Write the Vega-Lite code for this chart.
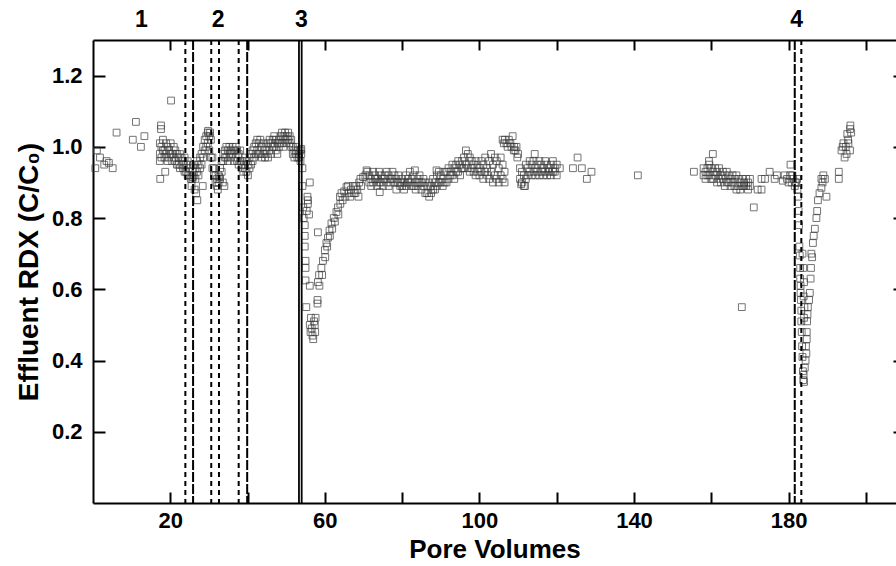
{
"$schema":"https://vega.github.io/schema/vega-lite/v6.json",
"autosize":"none",
"padding":{"left":93,"top":40,"right":0,"bottom":63},
"width":803,"height":463,
"config":{"font":"Liberation Sans","view":{"stroke":null},
"axis":{"domainColor":"black","domainWidth":2,"tickColor":"black","tickWidth":2,"grid":false,"labelFont":"Liberation Sans","labelFontWeight":"bold","labelFontSize":22,"labelColor":"black","titleFont":"Liberation Sans","titleFontWeight":"bold","titleFontSize":26,"titleColor":"black"}},
"datasets":{"pts":[
{"x":0.6,"y":0.94},{"x":1.0,"y":0.99},{"x":1.8,"y":0.97},{"x":2.9,"y":0.95},{"x":3.5,"y":0.96},{"x":4.1,"y":0.955},{"x":5.1,"y":0.94},{"x":6.1,"y":1.04},{"x":10.3,"y":1.02},{"x":11.1,"y":1.07},{"x":12.4,"y":1.0},{"x":13.3,"y":1.03},{"x":17.6,"y":1.06},{"x":17.6,"y":1.05},{"x":17.3,"y":0.96},{"x":18.7,"y":0.93},{"x":17.4,"y":0.91},{"x":20.2,"y":1.13},
{"x":17.3,"y":1.01},{"x":17.3,"y":0.98},{"x":17.7,"y":1.0},{"x":17.7,"y":0.97},{"x":18.1,"y":1.02},{"x":18.1,"y":0.99},{"x":18.5,"y":0.99},{"x":18.5,"y":0.97},{"x":18.9,"y":1.01},{"x":18.9,"y":0.98},{"x":19.3,"y":1.0},{"x":19.3,"y":0.96},{"x":19.7,"y":0.99},{"x":19.7,"y":0.97},{"x":20.1,"y":1.01},{"x":20.1,"y":0.98},{"x":20.5,"y":0.98},{"x":20.5,"y":0.96},{"x":20.9,"y":1.0},{"x":20.9,"y":0.97},{"x":21.3,"y":0.99},{"x":21.3,"y":0.96},{"x":21.7,"y":0.98},{"x":21.7,"y":0.95},{"x":22.1,"y":0.97},{"x":22.1,"y":0.95},{"x":22.5,"y":0.98},{"x":22.5,"y":0.94},
{"x":22.9,"y":0.97},{"x":22.9,"y":0.95},{"x":23.3,"y":0.96},{"x":23.3,"y":0.94},{"x":23.7,"y":0.97},{"x":23.7,"y":0.93},{"x":24.1,"y":0.95},{"x":24.1,"y":0.93},{"x":24.5,"y":0.96},{"x":24.5,"y":0.92},{"x":24.9,"y":0.94},{"x":24.9,"y":0.92},{"x":25.3,"y":0.95},{"x":25.3,"y":0.91},{"x":25.7,"y":0.93},{"x":25.7,"y":0.91},{"x":26.1,"y":0.95},{"x":26.1,"y":0.92},{"x":26.5,"y":0.94},{"x":26.5,"y":0.91},{"x":26.9,"y":0.96},{"x":26.9,"y":0.93},{"x":27.3,"y":0.95},{"x":27.3,"y":0.92},{"x":27.7,"y":0.97},{"x":27.7,"y":0.94},{"x":28.1,"y":0.98},{"x":28.1,"y":0.95},
{"x":28.5,"y":1.0},{"x":28.5,"y":0.97},{"x":28.9,"y":1.02},{"x":28.9,"y":0.99},{"x":29.3,"y":1.03},{"x":29.3,"y":1.0},{"x":29.7,"y":1.04},{"x":29.7,"y":1.01},{"x":30.1,"y":1.03},{"x":30.1,"y":0.99},{"x":30.5,"y":1.02},{"x":30.5,"y":0.97},{"x":30.9,"y":0.97},{"x":30.9,"y":0.94},{"x":31.3,"y":0.94},{"x":31.3,"y":0.92},{"x":31.7,"y":0.92},{"x":31.7,"y":0.9},{"x":32.1,"y":0.91},{"x":32.1,"y":0.89},{"x":32.5,"y":0.92},{"x":32.5,"y":0.9},{"x":32.9,"y":0.94},{"x":32.9,"y":0.91},{"x":33.3,"y":0.96},{"x":33.3,"y":0.93},
{"x":33.7,"y":0.98},{"x":33.7,"y":0.96},{"x":34.1,"y":0.99},{"x":34.1,"y":0.97},{"x":34.5,"y":1.0},{"x":34.5,"y":0.97},{"x":34.9,"y":0.99},{"x":34.9,"y":0.96},{"x":35.3,"y":1.0},{"x":35.3,"y":0.98},{"x":35.7,"y":0.99},{"x":35.7,"y":0.97},{"x":36.1,"y":1.0},{"x":36.1,"y":0.98},{"x":36.5,"y":0.99},{"x":36.5,"y":0.96},{"x":36.9,"y":1.0},{"x":36.9,"y":0.97},{"x":37.3,"y":0.99},{"x":37.3,"y":0.96},{"x":37.7,"y":0.98},{"x":37.7,"y":0.95},{"x":38.1,"y":0.99},{"x":38.1,"y":0.96},
{"x":38.5,"y":0.96},{"x":38.5,"y":0.94},{"x":38.9,"y":0.95},{"x":38.9,"y":0.93},{"x":39.3,"y":0.97},{"x":39.3,"y":0.94},{"x":39.7,"y":0.96},{"x":39.7,"y":0.93},{"x":40.1,"y":0.95},{"x":40.1,"y":0.92},{"x":40.5,"y":0.97},{"x":40.5,"y":0.94},{"x":40.9,"y":0.98},{"x":40.9,"y":0.95},
{"x":41.3,"y":0.99},{"x":41.3,"y":0.96},{"x":41.7,"y":1.0},{"x":41.7,"y":0.97},{"x":42.1,"y":1.01},{"x":42.1,"y":0.98},{"x":42.5,"y":1.02},{"x":42.5,"y":0.99},{"x":42.9,"y":1.01},{"x":42.9,"y":0.98},{"x":43.3,"y":1.02},{"x":43.3,"y":0.98},{"x":43.7,"y":1.0},{"x":43.7,"y":0.97},{"x":44.1,"y":1.01},{"x":44.1,"y":0.98},{"x":44.5,"y":0.99},{"x":44.5,"y":0.97},{"x":44.9,"y":1.0},{"x":44.9,"y":0.98},{"x":45.3,"y":1.01},{"x":45.3,"y":0.97},{"x":45.7,"y":1.02},{"x":45.7,"y":0.99},
{"x":46.1,"y":1.01},{"x":46.1,"y":0.98},{"x":46.5,"y":1.02},{"x":46.5,"y":1.0},{"x":46.9,"y":1.03},{"x":46.9,"y":1.0},{"x":47.3,"y":1.02},{"x":47.3,"y":0.99},{"x":47.7,"y":1.01},{"x":47.7,"y":0.98},{"x":48.1,"y":1.02},{"x":48.1,"y":1.0},{"x":48.5,"y":1.03},{"x":48.5,"y":1.01},{"x":48.9,"y":1.04},{"x":48.9,"y":1.01},{"x":49.3,"y":1.03},{"x":49.3,"y":1.0},{"x":49.7,"y":1.04},{"x":49.7,"y":1.02},{"x":50.1,"y":1.03},{"x":50.1,"y":1.01},{"x":50.5,"y":1.04},{"x":50.5,"y":1.02},{"x":50.9,"y":1.03},{"x":50.9,"y":1.01},{"x":51.3,"y":1.02},{"x":51.3,"y":1.0},
{"x":51.7,"y":1.0},{"x":51.7,"y":0.98},{"x":52.1,"y":0.99},{"x":52.1,"y":0.97},{"x":52.5,"y":1.0},{"x":52.5,"y":0.98},{"x":52.9,"y":0.99},{"x":52.9,"y":0.97},{"x":53.3,"y":0.98},{"x":53.3,"y":0.97},{"x":53.7,"y":0.99},{"x":53.7,"y":0.96},
{"x":25.5,"y":0.89},{"x":26.3,"y":0.88},{"x":27.0,"y":0.85},{"x":26.7,"y":0.87},{"x":25.8,"y":0.915},{"x":28.4,"y":0.89},{"x":29.8,"y":1.045},{"x":30.3,"y":1.04},{"x":32.3,"y":0.88},{"x":32.7,"y":0.915},{"x":34.0,"y":0.89},{"x":33.6,"y":0.9},
{"x":53.9,"y":0.98},{"x":53.9,"y":0.994},{"x":54.2,"y":0.94},{"x":54.2,"y":0.89},{"x":56.1,"y":0.9},{"x":54.4,"y":0.83},{"x":55.6,"y":0.85},{"x":55.6,"y":0.84},{"x":55.9,"y":0.81},{"x":54.8,"y":0.78},{"x":54.8,"y":0.75},{"x":54.8,"y":0.72},{"x":58.2,"y":0.76},{"x":55.0,"y":0.68},{"x":55.0,"y":0.66},{"x":55.0,"y":0.625},{"x":56.1,"y":0.61},{"x":55.2,"y":0.55},{"x":58.1,"y":0.56},{"x":58.1,"y":0.57},{"x":56.1,"y":0.5},{"x":56.3,"y":0.48},{"x":57.0,"y":0.46},{"x":57.6,"y":0.52},{"x":57.4,"y":0.5},{"x":56.6,"y":0.49},{"x":56.8,"y":0.47},{"x":57.2,"y":0.51},{"x":56.4,"y":0.52},{"x":57.5,"y":0.48},{"x":54.5,"y":0.8},{"x":55.3,"y":0.82},{"x":55.5,"y":0.86},
{"x":58.2,"y":0.62},{"x":58.5,"y":0.64},{"x":59.1,"y":0.66},{"x":59.5,"y":0.68},{"x":60.0,"y":0.71},{"x":60.4,"y":0.73},{"x":60.8,"y":0.745},{"x":61.2,"y":0.765},{"x":61.7,"y":0.785},{"x":62.3,"y":0.8},{"x":63.0,"y":0.817},{"x":63.4,"y":0.83},{"x":63.9,"y":0.86},{"x":64.3,"y":0.87},{"x":65.0,"y":0.875},{"x":65.6,"y":0.887},{"x":66.2,"y":0.87},{"x":66.8,"y":0.88},{"x":67.3,"y":0.89},{"x":67.9,"y":0.87},{"x":68.4,"y":0.88},{"x":68.9,"y":0.9},{"x":69.4,"y":0.89},{"x":69.9,"y":0.915},{"x":70.5,"y":0.92},{"x":71.0,"y":0.93},
{"x":58.6,"y":0.61},{"x":59.3,"y":0.64},{"x":60.1,"y":0.69},{"x":60.6,"y":0.72},{"x":61.3,"y":0.75},{"x":61.9,"y":0.77},{"x":62.6,"y":0.79},{"x":63.5,"y":0.81},{"x":64.0,"y":0.84},{"x":64.6,"y":0.85},{"x":65.3,"y":0.86},{"x":66.0,"y":0.89},{"x":66.6,"y":0.86},{"x":67.5,"y":0.87},{"x":68.1,"y":0.89},{"x":68.7,"y":0.86},{"x":69.2,"y":0.91},
{"x":71.5,"y":0.92},{"x":71.5,"y":0.9},{"x":72.0,"y":0.91},{"x":72.0,"y":0.89},{"x":72.5,"y":0.93},{"x":72.5,"y":0.9},{"x":73.0,"y":0.92},{"x":73.0,"y":0.91},{"x":73.5,"y":0.91},{"x":73.5,"y":0.89},{"x":74.0,"y":0.93},{"x":74.0,"y":0.9},{"x":74.5,"y":0.92},{"x":74.5,"y":0.9},{"x":75.0,"y":0.91},{"x":75.0,"y":0.89},{"x":75.5,"y":0.92},{"x":75.5,"y":0.91},{"x":76.0,"y":0.93},{"x":76.0,"y":0.9},{"x":76.5,"y":0.92},{"x":76.5,"y":0.89},{"x":77.0,"y":0.91},{"x":77.0,"y":0.9},{"x":77.5,"y":0.93},{"x":77.5,"y":0.91},{"x":78.0,"y":0.92},{"x":78.0,"y":0.9},{"x":78.5,"y":0.91},{"x":78.5,"y":0.88},{"x":79.0,"y":0.92},{"x":79.0,"y":0.9},{"x":79.5,"y":0.9},{"x":79.5,"y":0.89},{"x":80.0,"y":0.91},{"x":80.0,"y":0.89},{"x":80.5,"y":0.9},{"x":80.5,"y":0.88},{"x":81.0,"y":0.92},{"x":81.0,"y":0.89},{"x":81.5,"y":0.91},{"x":81.5,"y":0.9},{"x":82.0,"y":0.93},{"x":82.0,"y":0.9},{"x":82.5,"y":0.91},{"x":82.5,"y":0.89},{"x":83.0,"y":0.92},{"x":83.0,"y":0.89},{"x":83.5,"y":0.9},{"x":83.5,"y":0.88},{"x":84.0,"y":0.91},{"x":84.0,"y":0.89},{"x":84.5,"y":0.92},{"x":84.5,"y":0.9},{"x":85.0,"y":0.9},{"x":85.0,"y":0.88},{"x":85.5,"y":0.91},{"x":85.5,"y":0.89},{"x":86.0,"y":0.9},{"x":86.0,"y":0.87},{"x":86.5,"y":0.89},{"x":86.5,"y":0.87},{"x":87.0,"y":0.9},{"x":87.0,"y":0.86},{"x":87.5,"y":0.89},{"x":87.5,"y":0.87},{"x":88.0,"y":0.91},{"x":88.0,"y":0.88},{"x":88.5,"y":0.9},{"x":88.5,"y":0.88},{"x":89.0,"y":0.92},{"x":89.0,"y":0.89},{"x":89.5,"y":0.93},{"x":89.5,"y":0.9},{"x":90.0,"y":0.92},{"x":90.0,"y":0.9},{"x":90.5,"y":0.91},{"x":90.5,"y":0.89},{"x":91.0,"y":0.93},{"x":91.0,"y":0.9},
{"x":70.8,"y":0.934},{"x":74.2,"y":0.873},{"x":83.3,"y":0.934},{"x":88.9,"y":0.934},
{"x":91.5,"y":0.93},{"x":91.5,"y":0.9},{"x":92.0,"y":0.94},{"x":92.0,"y":0.91},{"x":92.5,"y":0.93},{"x":92.5,"y":0.92},{"x":93.0,"y":0.95},{"x":93.0,"y":0.92},{"x":93.5,"y":0.94},{"x":93.5,"y":0.91},{"x":94.0,"y":0.95},{"x":94.0,"y":0.93},{"x":94.5,"y":0.96},{"x":94.5,"y":0.93},{"x":95.0,"y":0.95},{"x":95.0,"y":0.92},{"x":95.5,"y":0.96},{"x":95.5,"y":0.94},{"x":96.0,"y":0.97},{"x":96.0,"y":0.94},{"x":96.5,"y":0.99},{"x":96.5,"y":0.95},{"x":97.0,"y":0.98},{"x":97.0,"y":0.94},{"x":97.5,"y":0.97},{"x":97.5,"y":0.93},{"x":98.0,"y":0.96},{"x":98.0,"y":0.94},{"x":98.5,"y":0.95},{"x":98.5,"y":0.93},{"x":99.0,"y":0.96},{"x":99.0,"y":0.92},{"x":99.5,"y":0.95},{"x":99.5,"y":0.93},{"x":100.0,"y":0.94},{"x":100.0,"y":0.92},{"x":100.5,"y":0.96},{"x":100.5,"y":0.93},{"x":101.0,"y":0.95},{"x":101.0,"y":0.91},{"x":101.5,"y":0.97},{"x":101.5,"y":0.93},{"x":102.0,"y":0.94},{"x":102.0,"y":0.92},{"x":102.5,"y":0.96},{"x":102.5,"y":0.91},{"x":103.0,"y":0.98},{"x":103.0,"y":0.93},{"x":103.5,"y":0.95},{"x":103.5,"y":0.9},{"x":104.0,"y":0.97},{"x":104.0,"y":0.92},{"x":104.5,"y":0.96},{"x":104.5,"y":0.91},{"x":105.0,"y":0.94},{"x":105.0,"y":0.9},{"x":105.5,"y":0.97},{"x":105.5,"y":0.92},{"x":106.0,"y":0.95},{"x":106.0,"y":0.91},{"x":106.5,"y":0.93},{"x":106.5,"y":0.9},
{"x":106.0,"y":1.02},{"x":106.3,"y":1.01},{"x":106.6,"y":1.02},{"x":107.0,"y":1.01},{"x":107.3,"y":1.0},{"x":107.6,"y":1.02},{"x":108.0,"y":1.01},{"x":108.3,"y":1.0},{"x":108.6,"y":1.03},{"x":109.0,"y":1.0},{"x":109.3,"y":0.99},{"x":109.6,"y":1.0},{"x":110.0,"y":0.98},{"x":108.9,"y":0.99},{"x":109.8,"y":0.97},
{"x":110.5,"y":0.94},{"x":110.5,"y":0.91},{"x":111.0,"y":0.93},{"x":111.0,"y":0.9},{"x":111.5,"y":0.92},{"x":111.5,"y":0.89},{"x":112.0,"y":0.95},{"x":112.0,"y":0.91},{"x":112.5,"y":0.94},{"x":112.5,"y":0.92},{"x":113.0,"y":0.96},{"x":113.0,"y":0.93},{"x":113.5,"y":0.95},{"x":113.5,"y":0.92},{"x":114.0,"y":0.96},{"x":114.0,"y":0.93},{"x":114.3,"y":0.98},{"x":114.5,"y":0.94},{"x":114.5,"y":0.92},{"x":115.0,"y":0.95},{"x":115.0,"y":0.93},{"x":115.5,"y":0.96},{"x":115.5,"y":0.92},{"x":116.0,"y":0.95},{"x":116.0,"y":0.93},{"x":116.5,"y":0.94},{"x":116.5,"y":0.92},{"x":117.0,"y":0.96},{"x":117.0,"y":0.93},{"x":117.5,"y":0.95},{"x":117.5,"y":0.92},{"x":118.0,"y":0.94},{"x":118.0,"y":0.93},{"x":118.5,"y":0.95},{"x":118.5,"y":0.92},{"x":119.0,"y":0.96},{"x":119.0,"y":0.93},{"x":119.5,"y":0.94},{"x":119.5,"y":0.93},{"x":120.0,"y":0.95},{"x":120.0,"y":0.92},{"x":120.8,"y":0.94},{"x":110.8,"y":0.895},{"x":111.8,"y":0.89},
{"x":125.4,"y":0.97},{"x":124.2,"y":0.94},{"x":126.5,"y":0.94},{"x":129.0,"y":0.93},{"x":127.8,"y":0.91},{"x":141.0,"y":0.92},
{"x":155.5,"y":0.93},{"x":160.4,"y":0.98},{"x":159.4,"y":0.96},
{"x":158.0,"y":0.94},{"x":158.0,"y":0.92},{"x":158.5,"y":0.93},{"x":158.5,"y":0.91},{"x":159.0,"y":0.94},{"x":159.0,"y":0.92},{"x":159.5,"y":0.95},{"x":159.5,"y":0.92},{"x":160.0,"y":0.94},{"x":160.0,"y":0.91},{"x":160.5,"y":0.93},{"x":160.5,"y":0.91},{"x":161.0,"y":0.94},{"x":161.0,"y":0.92},{"x":161.5,"y":0.93},{"x":161.5,"y":0.9},{"x":162.0,"y":0.94},{"x":162.0,"y":0.91},{"x":162.5,"y":0.92},{"x":162.5,"y":0.9},{"x":163.0,"y":0.93},{"x":163.0,"y":0.91},{"x":163.5,"y":0.92},{"x":163.5,"y":0.89},{"x":164.0,"y":0.93},{"x":164.0,"y":0.9},{"x":164.5,"y":0.92},{"x":164.5,"y":0.9},{"x":165.0,"y":0.91},{"x":165.0,"y":0.89},{"x":165.5,"y":0.92},{"x":165.5,"y":0.9},{"x":166.0,"y":0.91},{"x":166.0,"y":0.89},{"x":166.5,"y":0.92},{"x":166.5,"y":0.88},{"x":167.0,"y":0.91},{"x":167.0,"y":0.89},{"x":167.5,"y":0.9},{"x":167.5,"y":0.88},{"x":168.0,"y":0.91},{"x":168.0,"y":0.89},{"x":168.5,"y":0.9},{"x":168.5,"y":0.89},{"x":169.0,"y":0.91},{"x":169.0,"y":0.89},{"x":169.5,"y":0.9},{"x":169.5,"y":0.88},{"x":170.0,"y":0.91},{"x":170.0,"y":0.89},
{"x":167.9,"y":0.55},{"x":171.0,"y":0.83},{"x":172.0,"y":0.88},{"x":173.0,"y":0.91},{"x":173.0,"y":0.88},{"x":173.9,"y":0.91},{"x":175.1,"y":0.93},{"x":176.4,"y":0.91},{"x":177.0,"y":0.92},{"x":178.5,"y":0.905},{"x":179.0,"y":0.92},{"x":180.5,"y":0.95},
{"x":179.6,"y":0.91},{"x":180.0,"y":0.9},{"x":180.4,"y":0.92},{"x":180.8,"y":0.9},{"x":181.2,"y":0.91},{"x":181.6,"y":0.89},{"x":182.0,"y":0.9},{"x":182.2,"y":0.91},{"x":181.0,"y":0.92},{"x":181.8,"y":0.9},
{"x":182.3,"y":0.88},{"x":182.4,"y":0.86},{"x":182.6,"y":0.82},{"x":182.7,"y":0.78},{"x":182.8,"y":0.72},{"x":182.9,"y":0.695},{"x":183.0,"y":0.66},{"x":183.0,"y":0.63},{"x":183.1,"y":0.61},{"x":183.1,"y":0.59},{"x":183.2,"y":0.57},{"x":183.3,"y":0.54},{"x":183.3,"y":0.51},{"x":183.4,"y":0.48},{"x":183.5,"y":0.44},{"x":183.6,"y":0.41},{"x":183.7,"y":0.37},{"x":183.8,"y":0.345},{"x":183.9,"y":0.36},{"x":184.0,"y":0.34},{"x":184.2,"y":0.38},{"x":184.4,"y":0.4},{"x":184.5,"y":0.44},{"x":184.6,"y":0.42},{"x":184.7,"y":0.48},{"x":184.7,"y":0.46},{"x":184.8,"y":0.51},{"x":184.9,"y":0.53},{"x":185.0,"y":0.55},{"x":185.3,"y":0.57},{"x":185.5,"y":0.59},{"x":183.6,"y":0.7},{"x":183.8,"y":0.66},{"x":184.0,"y":0.62},{"x":183.9,"y":0.58},{"x":184.1,"y":0.55},{"x":184.0,"y":0.52},
{"x":185.7,"y":0.63},{"x":185.8,"y":0.66},{"x":185.9,"y":0.7},{"x":186.1,"y":0.69},{"x":186.3,"y":0.73},{"x":186.5,"y":0.75},{"x":186.8,"y":0.77},{"x":187.2,"y":0.8},{"x":187.4,"y":0.82},{"x":187.6,"y":0.85},{"x":188.0,"y":0.87},{"x":188.5,"y":0.885},{"x":188.5,"y":0.91},{"x":189.4,"y":0.91},{"x":189.8,"y":0.86},{"x":189.0,"y":0.92},{"x":188.8,"y":0.9},
{"x":193.0,"y":0.93},{"x":193.0,"y":0.91},{"x":194.5,"y":0.97},{"x":193.7,"y":0.99},{"x":195.9,"y":0.99},{"x":194.2,"y":1.01},{"x":195.5,"y":1.01},{"x":195.2,"y":1.036},{"x":195.9,"y":1.05},{"x":196.0,"y":1.06},{"x":194.8,"y":1.0},{"x":195.4,"y":1.02},{"x":196.2,"y":1.04},{"x":194.0,"y":1.0},{"x":195.0,"y":0.98}
]},
"layer":[
{"data":{"name":"pts"},"mark":{"type":"point","shape":"square","filled":false,"size":46,"stroke":"#3a3a3a","strokeWidth":1},
"encoding":{"x":{"field":"x","type":"quantitative","scale":{"domain":[0,207.8],"nice":false,"zero":false},
"axis":{"orient":"bottom","title":"Pore Volumes","values":[20,40,60,80,100,120,140,160,180,200],"labelExpr":"datum.value % 40 == 20 ? datum.label : ''","tickSize":-11,"labelPadding":18,"titlePadding":5}},
"y":{"field":"y","type":"quantitative","scale":{"domain":[0,1.3],"nice":false,"zero":false},
"axis":{"orient":"left","title":"Effluent RDX (C/C₀)","titleFontSize":28,"values":[0.2,0.4,0.6,0.8,1.0,1.2],"format":".1f","tickSize":-12,"labelPadding":23,"titlePadding":8}}}},
{"data":{"name":"pts"},"mark":{"type":"point","opacity":0},
"encoding":{"x":{"field":"x","type":"quantitative","axis":{"orient":"top","title":null,"labels":false,"values":[20,40,60,80,100,120,140,160,180,200],"tickSize":-10}},
"y":{"field":"y","type":"quantitative","axis":{"orient":"right","title":null,"labels":false,"domain":false,"values":[0.2,0.4,0.6,0.8,1.0,1.2],"tickSize":-3}}}},
{"data":{"values":[{"x":23.9},{"x":30.6},{"x":32.6},{"x":37.7},{"x":183.3}]},"mark":{"type":"rule","stroke":"black","strokeWidth":2,"strokeDash":[5,4]},
"encoding":{"x":{"field":"x","type":"quantitative","axis":null}}},
{"data":{"values":[{"x":25.9},{"x":39.9},{"x":181.6}]},"mark":{"type":"rule","stroke":"black","strokeWidth":2,"strokeDash":[10,2]},
"encoding":{"x":{"field":"x","type":"quantitative","axis":null}}},
{"data":{"values":[{"x":53.3},{"x":54.0}]},"mark":{"type":"rule","stroke":"black","strokeWidth":1.8},
"encoding":{"x":{"field":"x","type":"quantitative","axis":null}}},
{"data":{"values":[{"x":12.5,"t":"1"},{"x":32.4,"t":"2"},{"x":53.9,"t":"3"},{"x":182.1,"t":"4"}]},"mark":{"type":"text","fontSize":23,"fontWeight":"bold","font":"Liberation Sans","baseline":"middle","align":"center","color":"black"},
"encoding":{"x":{"field":"x","type":"quantitative","axis":null},"y":{"datum":1.356,"type":"quantitative","axis":null},"text":{"field":"t"}}}
],
"resolve":{"axis":{"x":"independent","y":"independent"}}
}
